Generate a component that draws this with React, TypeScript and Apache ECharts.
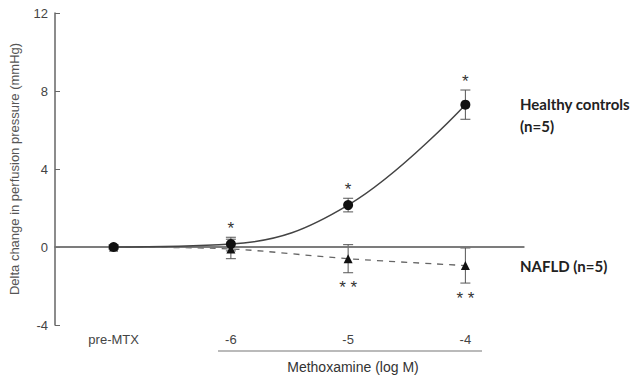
import React, { useEffect, useRef } from "react";
import * as echarts from "echarts";

const categories = ["pre-MTX", "-6", "-5", "-4"];
const healthyMean = [0, 0.15, 2.15, 7.3];
const healthyErr = [0.1, 0.35, 0.35, 0.75];
const healthyStars = ["", "*", "*", "*"];
const naflMean = [0, -0.1, -0.6, -0.95];
const naflErr = [0.1, 0.5, 0.72, 0.9];
const naflStars = ["", "", "**", "**"];
const yTicks = [-4, 0, 4, 8, 12];

const GRAY = "#555";

function errorSeries(means: number[], errs: number[], stars: string[], starAbove: boolean) {
  const data = means.map((m, i) => [i, m - errs[i], m + errs[i], stars[i]]);
  return {
    type: "custom",
    silent: true,
    z: 3,
    renderItem: (params: any, api: any) => {
      const x = api.value(0);
      const lo = api.coord([x, api.value(1)]);
      const hi = api.coord([x, api.value(2)]);
      const star = data[params.dataIndex][3] as string;
      const cap = 5;
      const st = { stroke: GRAY, lineWidth: 1 };
      const children: any[] = [
        { type: "line", shape: { x1: hi[0], y1: hi[1], x2: lo[0], y2: lo[1] }, style: st },
        { type: "line", shape: { x1: hi[0] - cap, y1: hi[1], x2: hi[0] + cap, y2: hi[1] }, style: st },
        { type: "line", shape: { x1: lo[0] - cap, y1: lo[1], x2: lo[0] + cap, y2: lo[1] }, style: st },
      ];
      if (star) {
        const p = starAbove ? hi : lo;
        children.push({
          type: "text",
          style: {
            text: star.split("").join(" "),
            x: p[0],
            y: starAbove ? p[1] - 9 : p[1] + 15,
            align: "center",
            verticalAlign: "middle",
            fill: "#333",
            font: "17px 'Liberation Sans'",
          },
        });
      }
      return { type: "group", children };
    },
    data,
  };
}

export default function App() {
  const ref = useRef<HTMLDivElement>(null);
  useEffect(() => {
    document.body.style.margin = "0";
    const chart = echarts.init(ref.current!, null, { renderer: "svg" });
    chart.setOption({
      animation: false,
      grid: { left: 55, right: 111, top: 13, bottom: 54 },
      xAxis: {
        type: "category",
        data: categories,
        boundaryGap: true,
        axisLine: { lineStyle: { color: "#666", width: 1.5 } },
        axisTick: { alignWithLabel: true, inside: true, length: 5, lineStyle: { color: "#666" } },
        axisLabel: { color: "#444", fontFamily: "Liberation Sans", fontSize: 13, margin: 8 },
      },
      yAxis: {
        type: "value",
        min: -4,
        max: 12,
        interval: 4,
        splitLine: { show: false },
        axisLine: { show: true, lineStyle: { color: "#666", width: 1.5 } },
        axisTick: { show: true, inside: true, length: 5, lineStyle: { color: "#666" } },
        axisLabel: {
          color: "#444",
          fontFamily: "Liberation Sans",
          fontSize: 13,
          margin: 7,
          formatter: (v: number) => (yTicks.includes(v) ? String(v) : ""),
        },
        name: "Delta change in perfusion pressure (mmHg)",
        nameLocation: "middle",
        nameGap: 34,
        nameTextStyle: { color: "#555", fontFamily: "Liberation Sans", fontSize: 13 },
      },
      series: [
        {
          type: "line",
          data: naflMean,
          smooth: 0.3,
          symbol: "triangle",
          symbolSize: 9,
          itemStyle: { color: "#111" },
          lineStyle: { color: "#666", width: 1.3, type: [6, 6] },
          z: 4,
          markLine: {
            silent: true,
            symbol: "none",
            label: { show: false },
            lineStyle: { color: "#777", width: 1.5, type: "solid" },
            data: [{ yAxis: 0 }],
          },
        },
        {
          type: "line",
          data: healthyMean,
          smooth: 0.4,
          symbol: "circle",
          symbolSize: 10,
          itemStyle: { color: "#111" },
          lineStyle: { color: "#444", width: 1.5 },
          z: 5,
        },
        errorSeries(healthyMean, healthyErr, healthyStars, true),
        errorSeries(naflMean, naflErr, naflStars, false),
      ],
      graphic: [
        { type: "line", shape: { x1: 218, y1: 351, x2: 482, y2: 351 }, style: { stroke: "#777", lineWidth: 1.2 } },
        {
          type: "text",
          x: 353,
          y: 367,
          style: { text: "Methoxamine (log M)", align: "center", verticalAlign: "middle", fill: "#333", font: "14px 'Liberation Sans'" },
        },
        {
          type: "text",
          x: 520,
          y: 104,
          style: { text: "Healthy controls", verticalAlign: "middle", fill: "#222", font: "bold 15px Lato" },
        },
        {
          type: "text",
          x: 520,
          y: 126,
          style: { text: "(n=5)", verticalAlign: "middle", fill: "#222", font: "bold 15px Lato" },
        },
        {
          type: "text",
          x: 520,
          y: 266,
          style: { text: "NAFLD (n=5)", verticalAlign: "middle", fill: "#222", font: "bold 15px Lato" },
        },
      ],
    });
    return () => chart.dispose();
  }, []);
  return <div ref={ref} style={{ width: 635, height: 379 }} />;
}
